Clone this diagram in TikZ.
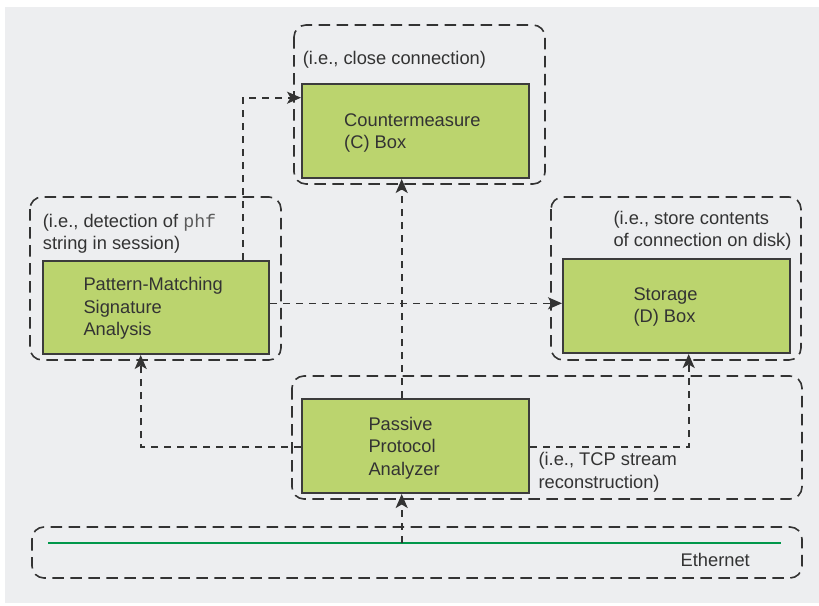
\documentclass[tikz,border=0pt]{standalone}
\usepackage{fontspec}
\setmainfont{Liberation Sans}
\newfontfamily\codefont{Liberation Mono}
\usetikzlibrary{arrows.meta}

\definecolor{panelbg}{HTML}{EDEEF0}
\definecolor{boxfill}{HTML}{BBD46E}
\definecolor{inkdark}{HTML}{333333}
\definecolor{boxline}{HTML}{3C3C3C}
\definecolor{wire}{HTML}{00974A}

\tikzset{
  box/.style={draw=boxline, line width=2pt, fill=boxfill, inner sep=0pt,
              anchor=north west},
  group/.style={draw=inkdark, line width=1.6pt, rounded corners=12pt,
                dash pattern=on 11.5pt off 6.5pt},
  conn/.style={draw=inkdark, line width=1.6pt, dash pattern=on 7pt off 6pt,
               -{Stealth[length=14pt, width=12pt, inset=3.5pt]}},
  % multi-line labels sit on the baseline of their last line
  label/.style={inner sep=0pt, anchor=base west, align=left, text=inkdark,
                font=\fontsize{18.3}{22.5}\selectfont},
}

\begin{document}
\begin{tikzpicture}[x=1pt, y=-1pt]
\useasboundingbox (0,0) rectangle (819,605);
\fill[panelbg] (5,7) rectangle (819,603);

% dashed groupings around each unit
\draw[group] (294,25) rectangle (545,184);
\draw[group] (30,197) rectangle (281,360);
\draw[group] (551,197) rectangle (801,360);
\draw[group] (292,376) rectangle (802,499);
\draw[group] (32,527) rectangle (802,578);

% processing units
\node[box, minimum width=227pt, minimum height=94pt] (c) at (301,83) {};
\node[box, minimum width=226pt, minimum height=93pt] (pm) at (42,260) {};
\node[box, minimum width=227pt, minimum height=94pt] (d) at (562,258) {};
\node[box, minimum width=227pt, minimum height=94pt] (ppa) at (301,398) {};

% network wire
\coordinate (ethL) at (48,542.7);
\coordinate (ethR) at (781,542.7);
\draw[wire, line width=2.4pt] (ethL) -- (ethR);

% routing points for the connectors
\coordinate (tapX) at (401.7,542.7);
\coordinate (pmUp) at (242.7,97.7);
\coordinate (pmD) at (0,303.3);
\coordinate (toPM) at (140.7,447);
\coordinate (toD) at (688.7,447);

% connectors
\draw[conn] (tapX) -- (ppa.south -| tapX);
\draw[conn] (ppa.north -| tapX) -- (c.south -| tapX);
\draw[conn] (ppa.west |- toPM) -| (pm.south -| toPM);
\draw[conn] (ppa.east |- toD) -| (d.south -| toD);
\draw[conn] (pm.north -| pmUp) |- (c.west |- pmUp);
\draw[conn] (pm.east |- pmD) -- (d.west |- pmD);

% texts
\node[label] (cNote) at (302.7,64) {(i.e., close connection)};
\node[label] (cText) at (344,148.5) {Countermeasure\\(C) Box};
\node[label] (pmNote) at (42.7,249.5) {(i.e., detection of {\codefont\color{inkdark!80}phf}\\string in session)};
\node[label] (pmText) at (83.3,335.5) {Pattern-Matching\\Signature\\Analysis};
\node[label] (dNote) at (613.3,246.7) {(i.e., store contents\\of connection on disk)};
\node[label] (dText) at (633.3,322.7) {Storage\\(D) Box};
\node[label] (ppaText) at (368.3,475) {Passive\\Protocol\\Analyzer};
\node[label] (ppaNote) at (538.3,488.3) {(i.e., TCP stream\\reconstruction)};
\node[label] (eth) at (680.4,566.7) {Ethernet};
\end{tikzpicture}
\end{document}
